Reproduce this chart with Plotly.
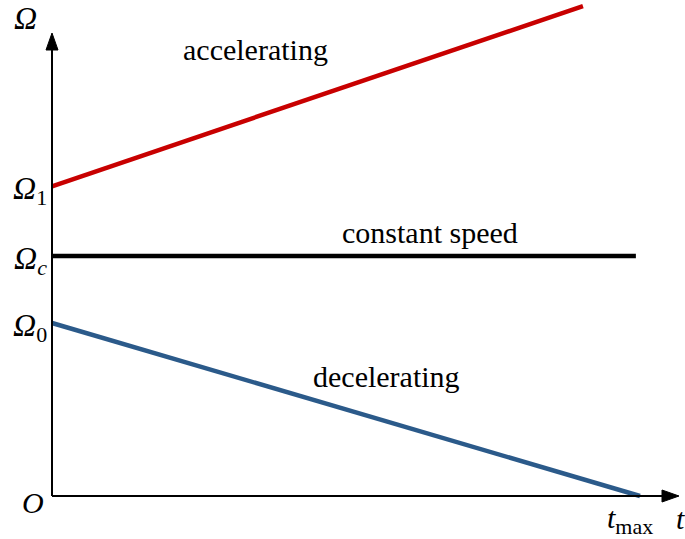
import plotly.graph_objects as go

W, H = 685, 539

# speed profiles (t normalised to t_max = 1, Omega normalised to Omega_0 = 1)
t_acc = [0.0, 0.903]
omega_acc = [1.79, 2.832]

t_const = [0.0, 0.993]
omega_const = [1.387, 1.387]

t_dec = [0.0, 1.0]
omega_dec = [1.0, 0.0]

tick_values = [1.79, 1.387, 1.0]
tick_subs = ["1", "<i>c</i>", "0"]

# pixel mapping of the drawing: origin at (52, 496)
X0, Y0, SX, SY = 52, 496, 588, 173


def px_x(px):
    return (px - X0) / SX


def px_y(py):
    return (Y0 - py) / SY


FONT = "Times New Roman, Liberation Serif, serif"
SUB = "<sub><span style='font-size:22px'>{}</span></sub>"
OMEGA = "<i><span style='font-size:32px'>Ω</span></i>"

fig = go.Figure()

fig.add_trace(go.Scatter(x=t_acc, y=omega_acc, mode="lines",
                         line=dict(color="#c80000", width=4.5), name="accelerating"))
fig.add_trace(go.Scatter(x=t_const, y=omega_const, mode="lines",
                         line=dict(color="#000000", width=4.5), name="constant speed"))
fig.add_trace(go.Scatter(x=t_dec, y=omega_dec, mode="lines",
                         line=dict(color="#2b5a8a", width=4.5), name="decelerating"))

# axes with arrow heads
ax_col = "#000000"
fig.add_shape(type="line", x0=0, y0=0, x1=px_x(668), y1=0,
              line=dict(color=ax_col, width=2))
fig.add_shape(type="line", x0=0, y0=0, x1=0, y1=px_y(44),
              line=dict(color=ax_col, width=2))
fig.add_shape(type="path",
              path=f"M {px_x(679)} 0 L {px_x(662)} {px_y(490)} L {px_x(662)} {px_y(502)} Z",
              fillcolor=ax_col, line=dict(color=ax_col, width=1))
fig.add_shape(type="path",
              path=f"M 0 {px_y(33)} L {px_x(46)} {px_y(50)} L {px_x(58)} {px_y(50)} Z",
              fillcolor=ax_col, line=dict(color=ax_col, width=1))

big = dict(family=FONT, size=30, color="black")

for v, sub in zip(tick_values, tick_subs):
    fig.add_annotation(x=px_x(49), y=v, text=OMEGA + SUB.format(sub), showarrow=False,
                       xanchor="right", yanchor="middle", yshift=-4, font=big)

fig.add_annotation(x=px_x(46), y=px_y(502), text="<i>O</i>", showarrow=False,
                   xanchor="right", yanchor="middle", font=big)
fig.add_annotation(x=px_x(25), y=px_y(18), text=OMEGA, showarrow=False,
                   xanchor="center", yanchor="middle", font=big)
fig.add_annotation(x=px_x(630), y=px_y(520), text="<i>t</i>" + SUB.format("max"),
                   showarrow=False, xanchor="center", yanchor="middle", font=big)
fig.add_annotation(x=px_x(680), y=px_y(518), text="<i>t</i>", showarrow=False,
                   xanchor="center", yanchor="middle", font=big)

fig.add_annotation(x=px_x(255), y=px_y(49), text="accelerating", showarrow=False,
                   font=big)
fig.add_annotation(x=px_x(430), y=px_y(232), text="constant speed", showarrow=False,
                   font=big)
fig.add_annotation(x=px_x(386), y=px_y(376), text="decelerating", showarrow=False,
                   font=big)

fig.update_layout(
    width=W,
    height=H,
    margin=dict(l=0, r=0, t=0, b=0),
    paper_bgcolor="white",
    plot_bgcolor="white",
    showlegend=False,
)

fig.update_xaxes(range=[px_x(0), px_x(W)], visible=False, fixedrange=True)
fig.update_yaxes(range=[px_y(H), px_y(0)], visible=False, fixedrange=True)

fig.write_html("out.html", config={"displayModeBar": False},
               post_script="document.body.style.margin='0';")
